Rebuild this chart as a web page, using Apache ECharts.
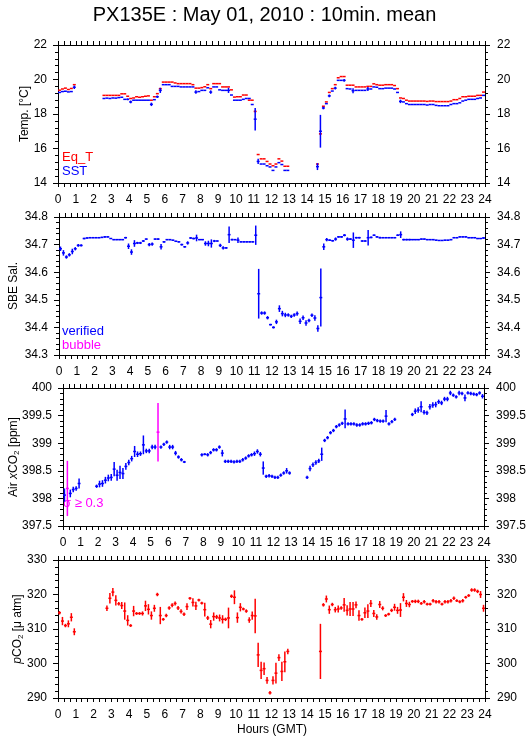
<!DOCTYPE html>
<html><head><meta charset="utf-8">
<script src="https://cdn.jsdelivr.net/npm/echarts@6.0.0/dist/echarts.min.js"></script>
<style>html,body{margin:0;padding:0;background:#fff}#c{width:529px;height:739px}</style>
</head><body><div id="c"></div>
<script>
// ---- DATA: 10-minute bins (index i covers hour i/6 .. (i+1)/6), null = no data ----
const n = null;
const hourLabels = ['0','1','2','3','4','5','6','7','8','9','10','11','12','13','14','15','16','17','18','19','20','21','22','23','24'];

const eqT = [
 19.38,19.45,19.5,19.42,19.48,19.7,
 n,n,n,n,n,n,
 n,n,n,19.08,19.08,19.08,
 19.08,19.08,19.08,19.17,19.17,19.03,
 18.9,18.93,19.0,18.97,19.0,19.03,
 19.05,18.8,19.0,19.18,19.47,19.85,
 19.85,19.85,19.85,19.8,19.76,19.76,
 19.76,19.76,19.76,19.7,19.5,19.5,
 19.53,19.58,19.7,19.47,19.76,19.76,
 19.76,19.57,19.57,19.57,19.4,18.98,
 19.0,19.0,19.1,19.1,18.8,18.8,
 18.15,15.65,15.4,15.4,15.25,15.1,
 15.0,15.1,15.4,15.27,14.97,14.97,
 n,n,n,n,n,n,
 n,n,n,15.1,16.85,18.45,
 18.7,19.25,19.47,19.7,20.1,20.17,
 20.17,19.67,19.67,19.67,19.57,19.57,
 19.57,19.57,19.6,19.6,19.75,19.7,
 19.67,19.67,19.7,19.7,19.7,19.65,
 19.47,18.93,18.9,18.8,18.75,18.75,
 18.75,18.75,18.75,18.75,18.73,18.75,
 18.75,18.72,18.72,18.72,18.72,18.72,
 18.75,18.83,18.83,18.9,19.0,19.0,
 19.03,19.03,19.03,19.08,19.08,19.27
];
const sst = [
 19.25,19.3,19.32,19.28,19.3,19.55,
 n,n,n,n,n,n,
 n,n,n,18.9,18.92,18.9,
 18.93,18.92,18.95,18.97,18.85,18.85,
 18.7,18.8,18.8,18.8,18.8,18.8,
 18.8,18.56,18.83,19.0,19.37,19.7,
 19.7,19.7,19.6,19.6,19.6,19.57,
 19.57,19.57,19.57,19.57,19.27,19.3,
 19.37,19.37,19.52,19.27,19.57,19.57,
 19.4,19.37,19.37,19.37,19.1,18.8,
 18.8,18.8,18.85,18.9,18.9,18.55,
 17.7,15.25,15.1,15.1,15.0,14.93,
 14.73,14.93,15.18,15.07,14.73,14.73,
 n,n,n,n,n,n,
 n,n,n,14.95,17.0,18.35,
 18.6,19.05,19.33,19.5,19.95,19.95,
 19.95,19.47,19.45,19.35,19.37,19.37,
 19.37,19.37,19.45,19.45,19.57,19.55,
 19.47,19.47,19.5,19.5,19.5,19.45,
 19.25,18.73,18.7,18.6,18.55,18.55,
 18.55,18.55,18.55,18.55,18.52,18.55,
 18.55,18.5,18.48,18.48,18.48,18.48,
 18.55,18.6,18.6,18.65,18.75,18.8,
 18.85,18.85,18.85,18.9,18.93,19.08
];
// sparse standard deviations [binIndex, sigma]
const eqTErr = [[66,0.05],[88,0.05]];
const sstErr = [[5,0.1],[23,0.05],[24,0.08],[31,0.1],[33,0.07],[34,0.15],[46,0.1],[51,0.1],[57,0.15],
 [66,0.65],[67,0.15],[87,0.2],[88,0.95],[89,0.08],[91,0.08],[93,0.08],[96,0.08],[99,0.15],[104,0.12],[115,0.1]];

const sal = [
 34.685,34.67,34.655,34.663,34.675,34.685,
 34.697,34.697,34.722,34.724,34.725,34.725,
 34.725,34.725,34.726,34.728,34.728,34.722,
 34.718,34.718,34.718,34.718,34.725,34.694,
 34.673,34.704,34.706,34.706,34.713,34.72,
 34.70,34.702,34.72,34.72,34.692,34.71,
 34.718,34.718,34.716,34.712,34.71,34.70,
 34.692,34.706,34.724,34.722,34.724,34.718,
 34.718,34.704,34.704,34.704,34.713,34.713,
 34.697,34.688,34.688,34.736,34.718,34.718,
 34.716,34.71,34.71,34.71,34.71,34.71,
 34.734,34.522,34.452,34.452,34.435,34.41,
 34.40,34.42,34.468,34.45,34.445,34.445,
 34.44,34.445,34.45,34.422,34.435,34.416,
 34.425,34.444,34.434,34.396,34.508,34.692,
 34.718,34.716,34.714,34.72,34.728,34.728,
 34.734,34.72,34.72,34.716,34.725,34.725,
 34.713,34.713,34.725,34.726,34.734,34.728,
 34.725,34.725,34.725,34.725,34.725,34.725,
 34.734,34.736,34.718,34.718,34.718,34.718,
 34.718,34.718,34.72,34.72,34.718,34.718,
 34.718,34.716,34.715,34.715,34.716,34.716,
 34.718,34.725,34.725,34.728,34.728,34.728,
 34.725,34.725,34.725,34.722,34.722,34.724
];
const salErr = [
 .008,.01,.006,.006,.01,.006,
 .005,.004,.003,.003,.002,.002,
 .002,.002,.002,.003,.002,.002,
 .002,.002,.002,.002,.003,.01,
 .01,.012,.004,.004,.003,.002,
 .006,.006,.002,.003,.01,.003,
 .002,.002,.002,.002,.002,.003,
 .003,.006,.003,.003,.012,.002,
 .002,.008,.01,.015,.004,.002,
 .006,.006,.003,.03,.003,.002,
 .01,.002,.002,.002,.002,.002,
 .035,.09,.006,.006,.006,.003,
 .004,.008,.012,.01,.008,.006,
 .006,.006,.008,.01,.008,.01,
 .006,.006,.01,.012,.105,.012,
 .006,.003,.003,.006,.003,.003,
 .004,.006,.003,.028,.003,.003,
 .003,.003,.028,.003,.003,.003,
 .003,.002,.002,.002,.002,.002,
 .003,.012,.003,.003,.003,.002,
 .002,.002,.002,.002,.002,.002,
 .002,.002,.002,.002,.002,.002,
 .002,.002,.002,.002,.002,.002,
 .002,.002,.002,.002,.002,.003
];

const xco2 = [
 398.06,398.18,398.09,398.16,398.18,398.27,
 n,n,n,n,n,398.22,
 398.26,398.27,398.33,398.37,398.38,398.53,
 398.42,398.47,398.45,398.58,398.65,398.72,
 398.85,398.8,398.81,398.97,398.86,398.86,
 398.93,398.93,399.2,398.93,398.98,399.02,
 398.93,398.93,398.82,398.75,398.7,398.66,
 n,n,n,n,n,398.79,
 398.8,398.79,398.83,398.88,398.88,398.93,
 398.82,398.67,398.67,398.67,398.66,398.67,
 398.67,398.7,398.73,398.77,398.79,398.81,
 398.85,398.8,398.55,398.4,398.41,398.4,
 398.38,398.38,398.42,398.46,398.5,398.46,
 n,n,n,n,n,398.38,
 398.54,398.61,398.65,398.68,398.8,399.05,
 399.1,399.19,399.23,399.3,399.33,399.36,
 399.44,399.35,399.35,399.35,399.33,399.33,
 399.35,399.35,399.36,399.37,399.43,399.41,
 399.4,399.4,399.49,399.35,399.39,399.43,
 n,n,n,n,n,399.52,
 399.58,399.6,399.66,399.56,399.55,399.66,
 399.69,399.7,399.75,399.73,399.8,399.8,
 399.91,399.87,399.84,399.91,399.9,399.82,
 399.91,399.9,399.89,399.88,399.91,399.85
];
const xco2Err = [
 .12,.5,.07,.05,.04,.09,
 n,n,n,n,n,.03,
 .06,.06,.06,.06,.06,.13,
 .1,.12,.1,.06,.05,.05,
 .1,.05,.04,.17,.04,.04,
 .04,.04,.53,.03,.03,.03,
 .04,.04,.04,.03,.03,.02,
 n,n,n,n,n,.03,
 .02,.03,.03,.03,.03,.03,
 .06,.03,.03,.03,.03,.03,
 .03,.03,.03,.03,.03,.04,
 .04,.04,.12,.03,.03,.03,
 .03,.03,.03,.03,.05,.03,
 n,n,n,n,n,.03,
 .05,.04,.04,.04,.12,.03,
 .03,.03,.03,.03,.03,.03,
 .17,.03,.03,.03,.03,.03,
 .03,.03,.03,.03,.03,.03,
 .03,.03,.11,.03,.03,.03,
 n,n,n,n,n,.03,
 .05,.05,.1,.04,.04,.05,
 .05,.05,.04,.04,.04,.04,
 .04,.03,.03,.04,.03,.06,
 .03,.03,.03,.03,.03,.04
];

const pco2 = [
 314.7,312.3,311.0,311.5,313.4,309.2,
 n,n,n,n,n,n,
 n,n,n,n,316.0,318.9,
 320.7,318.3,317.3,316.8,315.2,312.5,
 311.0,315.2,314.5,314.5,314.5,316.7,
 315.7,313.9,316.0,320.0,313.9,312.8,
 313.9,316.1,316.9,317.4,316.1,315.1,
 314.3,316.5,318.9,317.7,316.7,318.4,
 317.5,315.6,313.2,311.4,313.6,313.5,
 313.2,312.8,312.8,313.2,319.5,319.2,
 313.3,316.3,315.8,315.2,312.6,313.9,
 313.8,302.5,298.0,298.5,295.1,291.5,
 295.1,297.2,301.7,297.7,300.5,303.5,
 n,n,n,n,n,n,
 n,n,n,n,303.5,317.0,
 318.7,315.6,317.1,315.6,315.8,316.1,
 317.0,315.4,315.8,315.8,317.0,313.9,
 312.8,314.7,315.2,317.4,314.5,313.5,
 317.1,316.0,313.9,314.3,315.4,316.3,
 315.4,315.5,319.2,317.4,317.1,318.0,
 318.0,318.0,317.4,317.9,317.2,317.2,
 318.2,317.9,317.9,317.2,317.9,317.9,
 318.2,318.9,318.2,317.9,318.2,319.2,
 319.7,321.3,321.3,320.9,320.0,316.0
];
const pco2Err = [
 0.5,1.2,0.5,1.0,1.2,1.0,
 n,n,n,n,n,n,
 n,n,n,n,0.8,1.5,
 1.2,1.5,0.5,1.0,2.5,1.5,
 0.4,1.5,0.4,0.4,0.6,1.5,
 1.5,1.2,1.0,0.5,2.5,0.4,
 0.5,0.5,0.6,0.6,0.6,0.6,
 0.5,1.0,0.4,1.2,1.2,0.4,
 0.4,2.0,0.6,1.2,1.2,0.6,
 1.0,1.2,0.5,3.0,0.5,2.0,
 1.5,1.2,0.4,0.5,0.8,1.2,
 5.0,3.5,2.5,1.8,1.0,0.5,
 1.2,3.0,1.0,2.8,3.0,0.8,
 n,n,n,n,n,n,
 n,n,n,n,8.0,0.5,
 1.0,1.2,0.5,0.8,1.0,0.5,
 2.0,1.5,2.0,2.0,1.0,1.5,
 0.4,1.5,2.0,1.0,1.0,0.8,
 1.0,0.6,0.4,0.4,0.5,1.0,
 1.0,2.0,1.2,1.0,0.8,0.4,
 0.5,0.5,0.4,0.5,0.4,0.4,
 0.5,0.5,0.5,0.4,0.5,0.5,
 0.5,0.5,0.4,0.4,0.5,0.4,
 0.4,0.5,0.5,0.5,1.0,1.0
];

// ---- build ----
const BIN = 1/6;
const FONT = 'Liberation Sans, Arial, sans-serif';
function bins(vals, errs, sparse){
  const e = new Array(vals.length).fill(0);
  if (sparse) sparse.forEach(p => { e[p[0]] = p[1]; });
  else if (errs) errs.forEach((v,i) => { e[i] = v || 0; });
  const out = [];
  vals.forEach((v,i) => { if (v !== null) out.push([i*BIN, v, e[i]]); });
  return out;
}
function renderer(colorFn){
  return function(params, api){
    const t = api.value(0), v = api.value(1), s = api.value(2);
    const c = colorFn(s);
    const a = api.coord([t, v]), b = api.coord([t + BIN, v]);
    const xc = (a[0] + b[0]) / 2;
    const ch = [{type:'line', shape:{x1:a[0], y1:a[1], x2:b[0], y2:b[1]}, style:{stroke:c, lineWidth:1.5}}];
    if (s > 0) {
      const hi = api.coord([t, v + s]), lo = api.coord([t, v - s]);
      ch.push({type:'line', shape:{x1:xc, y1:hi[1], x2:xc, y2:lo[1]}, style:{stroke:c, lineWidth:1.5}});
    }
    return {type:'group', children: ch};
  };
}

const tops = [45, 217, 388, 560];
const H = 138;
const grids = tops.map(t => ({left:58, top:t, width:427, height:H}));
const black = {color:'#000', width:1};

const xAxes = [];
tops.forEach((t, gi) => {
  ['bottom','top'].forEach(pos => {
    xAxes.push({type:'value', gridIndex:gi, position:pos, min:0, max:24, interval:1,
      axisLine:{show:true, onZero:false, lineStyle:black},
      axisTick:{show:true, length:4, lineStyle:black},
      minorTick:{show:true, splitNumber:3, length:4, lineStyle:black},
      splitLine:{show:false},
      axisLabel:{show: pos==='bottom', color:'#000', fontSize:12, fontFamily:FONT, margin:11,
        formatter: v => hourLabels[Math.round(v)]}
    });
  });
});

const yDefs = [
  {min:14, max:22, interval:2, name:'Temp. [°C]', gap:27},
  {min:34.3, max:34.8, interval:0.1, name:'SBE Sal.', gap:39},
  {min:397.5, max:400, interval:0.5, name:'Air {it|x}CO{sub|2} [ppm]', gap:42},
  {min:290, max:330, interval:10, name:'{it|p}CO{sub|2} [μ atm]', gap:33}
];
const yAxes = [];
yDefs.forEach((d, gi) => {
  ['left','right'].forEach(pos => {
    yAxes.push({type:'value', gridIndex:gi, position:pos, min:d.min, max:d.max, interval:d.interval,
      axisLine:{show:true, onZero:false, lineStyle:black},
      axisTick:{show:true, length:5, lineStyle:black},
      minorTick:{show:true, splitNumber:5, length:3, lineStyle:black},
      splitLine:{show:false},
      axisLabel:{color:'#000', fontSize:12, fontFamily:FONT, margin: pos==='left' ? 11 : 12},
      name: pos==='left' ? d.name : '', nameLocation:'middle', nameGap:d.gap, nameRotate:90,
      nameMoveOverlap:false,
      nameTextStyle:{color:'#000', fontSize:12, fontFamily:FONT,
        rich:{it:{fontStyle:'italic', fontSize:12, fontFamily:FONT, color:'#000'},
              sub:{fontSize:8, fontFamily:FONT, color:'#000', verticalAlign:'bottom', padding:[6,0,0,0]}}}
    });
  });
});

function cs(gi, data, colorFn, z){
  return {type:'custom', xAxisIndex:gi*2, yAxisIndex:gi*2, data, renderItem:renderer(colorFn),
    encode:{x:0, y:1}, z: z||2, clip:true, silent:true, animation:false};
}
const series = [
  cs(0, bins(eqT, null, eqTErr), () => '#ff0000', 2),
  cs(0, bins(sst, null, sstErr), () => '#0000ff', 3),
  cs(1, bins(sal, salErr), () => '#0000ff'),
  cs(2, bins(xco2, xco2Err), s => s >= 0.3 ? '#ff00ff' : '#0000ff'),
  cs(3, bins(pco2, pco2Err), () => '#ff0000')
];

function txt(x, y, s, c, size){
  return {type:'text', left:x, top:y, style:{text:s, fill:c, font: (size||12) + 'px ' + FONT}};
}
const chart = echarts.init(document.getElementById('c'), null, {renderer:'canvas'});
chart.setOption({
  animation:false,
  backgroundColor:'#fff',
  title:{text:'PX135E : May 01, 2010 : 10min. mean', left:'center', top:0,
    textStyle:{fontSize:20, fontWeight:'normal', color:'#000', fontFamily:FONT}},
  grid: grids, xAxis: xAxes, yAxis: yAxes, series,
  graphic:[
    txt(62, 151, 'Eq_T', '#ff0000', 13),
    txt(62, 165, 'SST', '#0000ff', 13),
    txt(62, 325, 'verified', '#0000ff', 13),
    txt(62, 339, 'bubble', '#ff00ff', 13),
    txt(63, 497, 'σ ≥ 0.3', '#ff00ff', 13),
    {type:'text', left:237, top:724, style:{text:'Hours (GMT)', fill:'#000', font:'12px ' + FONT}}
  ]
});
</script></body></html>
